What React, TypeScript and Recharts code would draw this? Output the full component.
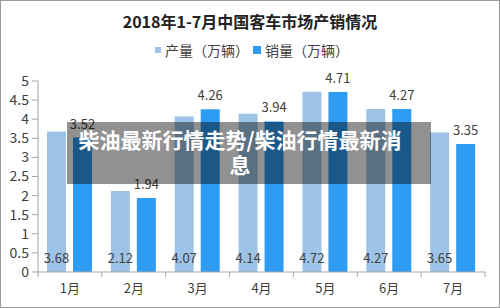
import React from 'react';
import { BarChart, Bar, XAxis, YAxis, Legend, LabelList } from 'recharts';

const months = ['1月', '2月', '3月', '4月', '5月', '6月', '7月'];
const production = [3.68, 2.12, 4.07, 4.14, 4.72, 4.27, 3.65];
const sales = [3.52, 1.94, 4.26, 3.94, 4.71, 4.27, 3.35];
const yTicks = [0, 0.5, 1, 1.5, 2, 2.5, 3, 3.5, 4, 4.5, 5];
const seriesNames = ['产量（万辆）', '销量（万辆）'];
const seriesColors = ['#9dc3e6', '#2e9cf2'];

const chartTitle = '2018年1-7月中国客车市场产销情况';
const bannerLines = ['柴油最新行情走势/柴油行情最新消', '息'];

const data = months.map((m, i) => ({ month: m, production: production[i], sales: sales[i] }));

const FONT = '"Noto Sans CJK SC", "Microsoft YaHei", sans-serif';

const MonthTick = (props: any) => {
  const { x, y, payload, index, visibleTicksCount } = props;
  const half = payload.offset ?? 32;
  return (
    <g>
      <line x1={x - half} y1={y} x2={x - half} y2={y + 5} stroke="#a6a6a6" />
      {index === visibleTicksCount - 1 && (
        <line x1={x + half} y1={y} x2={x + half} y2={y + 5} stroke="#a6a6a6" />
      )}
      <text x={x} y={y + 21} textAnchor="middle" fontSize={13} fill="#404040" fontFamily={FONT}>
        {payload.value}
      </text>
    </g>
  );
};

const renderLegend = () => (
  <div style={{ display: 'flex', justifyContent: 'center', alignItems: 'center', fontFamily: FONT, fontSize: 14, color: '#404040', paddingLeft: 8 }}>
    {seriesNames.map((name, i) => (
      <span key={name} style={{ display: 'flex', alignItems: 'center', marginRight: 4 }}>
        <span style={{ display: 'inline-block', width: i === 0 ? 6 : 8, height: i === 0 ? 6 : 8, background: seriesColors[i], marginRight: 4 }} />
        {name}
      </span>
    ))}
  </div>
);

export default function App() {
  return (
    <div style={{ position: 'absolute', left: 0, top: 0, width: 500, height: 308, background: '#fff', fontFamily: FONT }}>
      <div style={{ position: 'absolute', left: 0, top: 0, width: 498, height: 306, border: '1px solid #9a9a9a' }} />
      <div style={{ position: 'absolute', left: 0, top: 9, width: 500, textAlign: 'center', fontSize: 16, fontWeight: 'bold', color: '#222' }}>
        {chartTitle}
      </div>
      <BarChart
        width={500}
        height={308}
        data={data}
        margin={{ top: 81, right: 15, bottom: 0, left: 0 }}
        barSize={19}
        barGap={7}
      >
        <Legend verticalAlign="middle" align="center" wrapperStyle={{ top: 40, left: 0, width: 500 }} content={renderLegend} />
        <YAxis
          domain={[0, 5]}
          ticks={yTicks}
          width={38}
          axisLine={{ stroke: '#a6a6a6' }}
          tickLine={{ stroke: '#a6a6a6' }}
          tickSize={6}
          tickMargin={3}
          tick={{ fontSize: 14, fill: '#404040', fontFamily: FONT }}
          interval={0}
        />
        <XAxis
          dataKey="month"
          height={36}
          axisLine={{ stroke: '#a6a6a6' }}
          tickLine={false}
          tickSize={0}
          tickMargin={0}
          tick={<MonthTick />}
          interval={0}
        />
        <Bar dataKey="production" name={seriesNames[0]} fill={seriesColors[0]} isAnimationActive={false}>
          <LabelList dataKey="production" position="insideBottom" offset={9} fontSize={13} fill="#404040" fontFamily={FONT} />
        </Bar>
        <Bar dataKey="sales" name={seriesNames[1]} fill={seriesColors[1]} isAnimationActive={false}>
          <LabelList dataKey="sales" position="top" offset={9} fontSize={13} fill="#404040" fontFamily={FONT} />
        </Bar>
      </BarChart>
      <div
        style={{
          position: 'absolute',
          left: 67,
          top: 122,
          width: 364,
          height: 62,
          background: 'rgba(0,0,0,0.43)',
          color: '#fff',
          fontWeight: 'bold',
          fontSize: 21,
          lineHeight: '25px',
          textAlign: 'center',
          paddingTop: 5,
          paddingRight: 18,
          boxSizing: 'border-box',
        }}
      >
        {bannerLines.map((l) => (
          <div key={l} style={{ whiteSpace: 'nowrap' }}>{l}</div>
        ))}
      </div>
    </div>
  );
}
